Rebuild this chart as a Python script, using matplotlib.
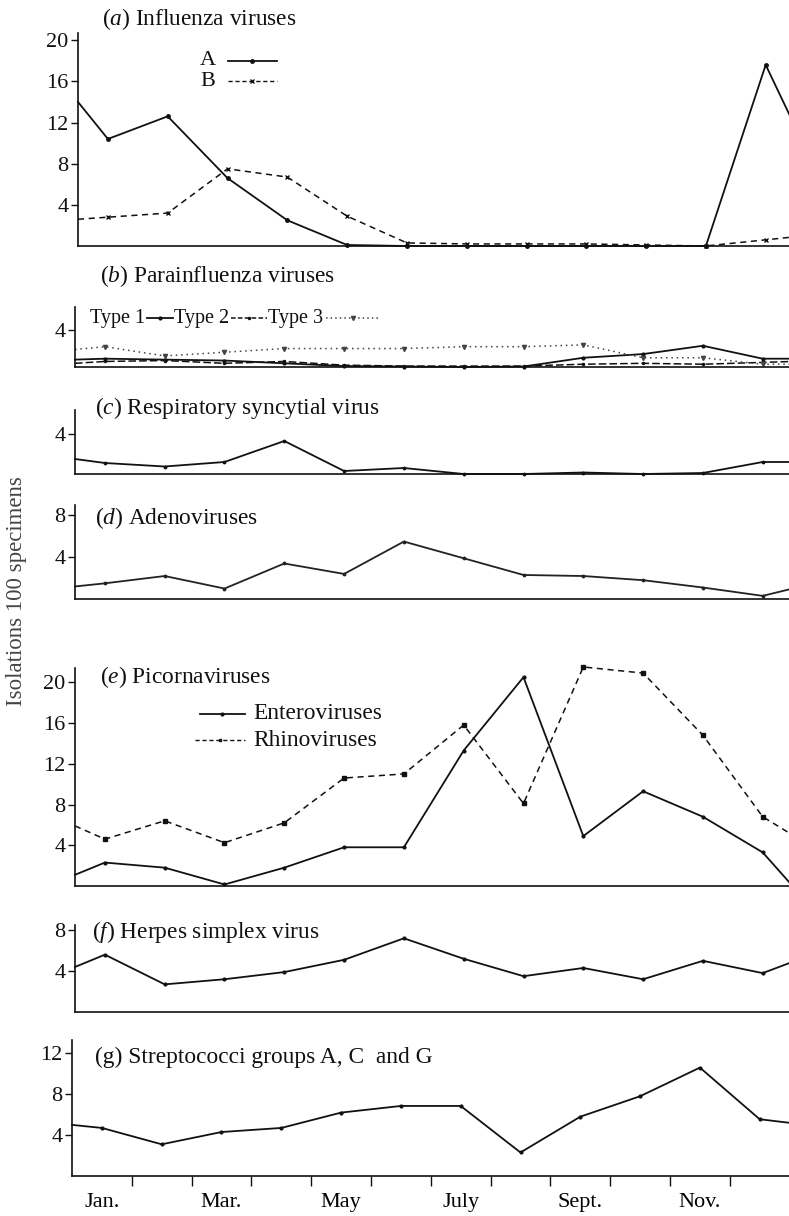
import numpy as np
import matplotlib.pyplot as plt
from matplotlib.lines import Line2D

plt.rcParams["font.family"] = ["Liberation Serif", "DejaVu Serif"]
plt.rcParams["mathtext.fontset"] = "custom"
plt.rcParams["mathtext.rm"] = "Liberation Serif"
plt.rcParams["mathtext.it"] = "Liberation Serif:italic"

W, H = 789, 1216
MONTH_W = 59.8

MONTH_LABELS = ["Jan.", "", "Mar.", "", "May", "", "July", "", "Sept.", "", "Nov.", ""]

# each series: value at the start of the year, 12 monthly values, value at year end
flu_a = [14.0, 10.4, 12.6, 6.6, 2.5, 0.1, 0.0, 0.0, 0.0, 0.0, 0.0, 0.0, 17.6, 11.5]
flu_b = [2.6, 2.8, 3.2, 7.5, 6.7, 2.9, 0.3, 0.2, 0.2, 0.2, 0.1, 0.0, 0.6, 0.9]

para_1 = [0.8, 0.9, 0.8, 0.7, 0.4, 0.1, 0.05, 0.0, 0.05, 1.0, 1.4, 2.3, 0.9, 0.9]
para_2 = [0.4, 0.6, 0.7, 0.4, 0.6, 0.2, 0.1, 0.1, 0.1, 0.3, 0.4, 0.3, 0.5, 0.6]
para_3 = [1.9, 2.2, 1.2, 1.6, 2.0, 2.0, 2.0, 2.2, 2.2, 2.4, 1.0, 1.0, 0.3, 0.3]

rsv = [1.5, 1.1, 0.75, 1.2, 3.3, 0.3, 0.6, 0.0, 0.0, 0.15, 0.0, 0.1, 1.2, 1.2]

adeno = [1.2, 1.5, 2.2, 1.0, 3.4, 2.4, 5.5, 3.9, 2.3, 2.2, 1.8, 1.1, 0.3, 1.0]

entero = [1.1, 2.3, 1.8, 0.15, 1.8, 3.8, 3.8, 13.3, 20.5, 4.9, 9.3, 6.8, 3.3, 0.0]
rhino = [5.9, 4.6, 6.4, 4.25, 6.2, 10.6, 11.0, 15.8, 8.1, 21.5, 20.9, 14.8, 6.8, 5.0]

herpes = [4.4, 5.6, 2.7, 3.2, 3.9, 5.1, 7.2, 5.2, 3.5, 4.3, 3.2, 5.0, 3.8, 4.9]

strep = [5.0, 4.7, 3.1, 4.3, 4.7, 6.2, 6.85, 6.85, 2.3, 5.8, 7.8, 10.6, 5.55, 5.2]

MID_X = np.arange(12) + 0.5
X = np.concatenate([[0.0], MID_X, [12.0]])
MARK = list(range(1, 13))

TICK_SIZE = 16
TITLE_SIZE = 16.8
INK = "#111111"


def make_axes(top, bottom, ymax, yticks, left=75):
    width = 12 * MONTH_W
    ax = plt.gcf().add_axes([left / W, 1 - bottom / H, width / W, (bottom - top) / H])
    ax.set_xlim(0, 12)
    ax.set_ylim(0, ymax)
    for side in ("top", "right"):
        ax.spines[side].set_visible(False)
    for side in ("left", "bottom"):
        ax.spines[side].set_linewidth(1.2)
        ax.spines[side].set_color(INK)
    ax.set_yticks(yticks)
    ax.tick_params(axis="y", direction="out", length=5, width=1, labelsize=TICK_SIZE,
                   pad=2, colors=INK)
    ax.set_xticks([])
    ax.patch.set_alpha(0)
    return ax


def series(ax, values, ls="-", marker=".", ms=4, color=INK, lw=1.3):
    ax.plot(X, values, ls=ls, marker=marker, ms=ms, markevery=MARK,
            color=color, lw=lw, clip_on=False)


def title(ax, x_px, y_data, text, left=75):
    ax.text((x_px - left) / MONTH_W, y_data, text, fontsize=TITLE_SIZE,
            va="center", ha="left", color=INK, clip_on=False)


def key_line(ax, x0, x1, y, **style):
    xs = [x0, (x0 + x1) / 2, x1]
    ax.add_line(Line2D(xs, [y] * 3, markevery=[1], clip_on=False, **style))


def inline_key(ax, x, y, entries, size):
    # text followed directly by a short sample of the line, left to right
    fig = ax.figure
    renderer = fig.canvas.get_renderer()
    to_data = ax.transData.inverted()
    for label, length, style in entries:
        t = ax.text(x, y, label, fontsize=size, va="center", ha="left", color=INK)
        bb = t.get_window_extent(renderer)
        x = to_data.transform((bb.x1, bb.y0))[0] + 0.04
        key_line(ax, x, x + length, y, **style)
        x = x + length + 0.02


fig = plt.figure(figsize=(W / 100, H / 100), dpi=100)
fig.patch.set_facecolor("white")

# (a) influenza
ax = make_axes(33, 246, 20.7, [4, 8, 12, 16, 20], left=78)
series(ax, flu_a, "-", ".", 5)
series(ax, flu_b, (0, (4, 3)), "x", 3.5, lw=1.1)
title(ax, 102, 22.1, r"($\it{a}$) Influenza viruses", left=78)
ax.text(2.3, 18.0, "A", fontsize=TICK_SIZE, va="center", ha="right", color=INK)
ax.text(2.3, 16.0, "B", fontsize=TICK_SIZE, va="center", ha="right", color=INK)
key_line(ax, 2.5, 3.32, 18.0, color=INK, lw=1.3, marker=".", ms=5)
key_line(ax, 2.5, 3.32, 16.0, color=INK, lw=1.0, ls=(0, (3, 2)), marker="x", ms=3)

# (b) parainfluenza
ax = make_axes(307, 367, 6.5, [4])
series(ax, para_1, "-", ".", 4)
series(ax, para_2, (0, (5, 2)), ".", 3, lw=1.1)
series(ax, para_3, (0, (1, 2.5)), "v", 3, color="#444444", lw=1.1)
title(ax, 100, 9.9, r"($\it{b}$) Parainfluenza viruses")
inline_key(ax, 0.25, 5.3, [
    ("Type 1", 0.42, dict(color=INK, lw=1.3, marker=".", ms=4)),
    ("Type 2", 0.6, dict(color=INK, lw=1.1, ls=(0, (3, 1.5)), marker=".", ms=3)),
    ("Type 3", 0.9, dict(color="#444444", lw=1.1, ls=(0, (1, 2)), marker="v", ms=3)),
], 14.5)

# (c) RSV
ax = make_axes(410, 474, 6.4, [4])
series(ax, rsv, "-", ".", 3.5)
title(ax, 95, 6.6, r"($\it{c}$) Respiratory syncytial virus")

# (d) adenovirus
ax = make_axes(505, 599, 9.0, [4, 8])
series(ax, adeno, "-", ".", 3.5, color="#222222")
title(ax, 95, 7.8, r"($\it{d}$) Adenoviruses")

# (e) picornavirus
ax = make_axes(668, 886, 21.4, [4, 8, 12, 16, 20])
series(ax, entero, "-", ".", 4)
series(ax, rhino, (0, (4, 3)), "s", 2.2, lw=1.1)
title(ax, 100, 20.5, r"($\it{e}$) Picornaviruses")
key_line(ax, 2.09, 2.84, 16.9, color=INK, lw=1.3, marker=".", ms=4)
key_line(ax, 2.0, 2.84, 14.3, color=INK, lw=1.0, ls=(0, (3, 2)), marker="s", ms=2)
ax.text(2.98, 16.9, "Enteroviruses", fontsize=TITLE_SIZE, va="center", color=INK)
ax.text(2.98, 14.3, "Rhinoviruses", fontsize=TITLE_SIZE, va="center", color=INK)

# (f) herpes simplex
ax = make_axes(925, 1012, 8.5, [4, 8])
series(ax, herpes, "-", ".", 4)
title(ax, 92, 7.8, r"($\it{f}$) Herpes simplex virus")

# (g) streptococci
ax = make_axes(1040, 1176, 13.3, [4, 8, 12], left=72)
series(ax, strep, "-", ".", 4)
title(ax, 95, 11.6, "(g) Streptococci groups A, C  and G", left=72)
ax.set_xticks(np.arange(1, 12))
ax.set_xticklabels([])
ax.tick_params(axis="x", direction="out", length=7, width=1, colors=INK)
ax.set_xticks(MID_X, minor=True)
ax.set_xticklabels(MONTH_LABELS, minor=True, fontsize=TICK_SIZE)
ax.tick_params(axis="x", which="minor", length=0, pad=12)

fig.text(17 / W, 1 - 591 / H, "Isolations 100 specimens", rotation=90,
         fontsize=16.5, color="#444444", ha="center", va="center")

fig.savefig("out.png", dpi=100)
